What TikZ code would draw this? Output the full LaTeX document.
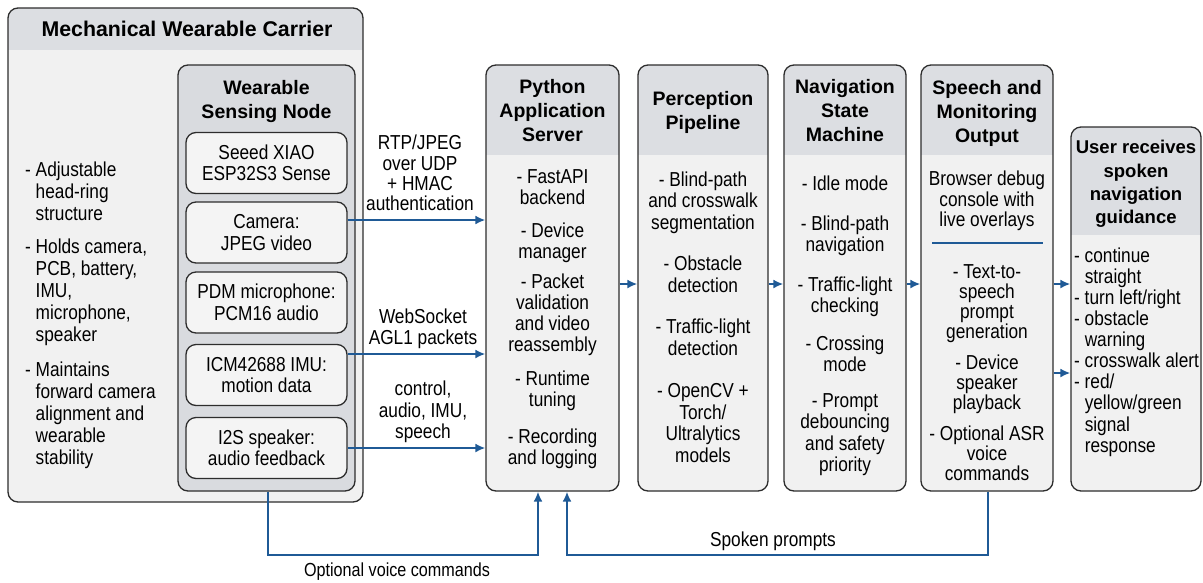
\documentclass[tikz,border=0pt]{standalone}
\usepackage{fontspec}
\setmainfont{Liberation Sans}
\newfontfamily\bodyf{Liberation Sans}[FakeStretch=0.855]
\usetikzlibrary{arrows.meta}
\definecolor{bord}{HTML}{2D2D2D}
\definecolor{boxfill}{HTML}{F1F1F1}
\definecolor{hdr}{HTML}{DCDEE2}
\definecolor{sncol}{HTML}{D9DBDF}
\definecolor{infill}{HTML}{F4F4F4}
\definecolor{lnblue}{HTML}{1F5A96}
\tikzset{
  base/.style={draw=bord, line width=1.3pt, rounded corners=10pt, inner sep=0pt},
  panel/.style={base, fill=boxfill, path picture={\fill[hdr, sharp corners] (path picture bounding box.north west) rectangle ([yshift=-#1]path picture bounding box.north east);}},
  snode/.style={base, fill=sncol},
  inbox/.style={base, fill=infill, minimum width=161pt, minimum height=61pt, align=center, font=\bodyf\fontsize{20.2}{21.5}\selectfont},
  ttl/.style={inner sep=0pt, align=center, font=\bfseries\fontsize{19.5}{24}\selectfont},
  body/.style={inner sep=0pt, align=center, font=\bodyf\fontsize{20.2}{21.5}\selectfont},
  arr/.style={draw=lnblue, line width=1.9pt, -{Latex[length=10pt,width=9pt]}},
}
\begin{document}
\begin{tikzpicture}[x=1pt,y=-1pt]
\useasboundingbox (0,0) rectangle (1203,582);
\fill[white] (0,0) rectangle (1203,582);

% Carrier
\node[panel=42pt, minimum width=355pt, minimum height=494pt] (mwc) at (185.5,255) {};
\node[ttl, font=\bfseries\fontsize{21.3}{24}\selectfont] (mwct) at (187,29) {Mechanical Wearable Carrier};
\node[body, align=left, anchor=west, font=\bodyf\fontsize{20.2}{22}\selectfont] (ltxt) at (25,315) {%
- Adjustable\\\phantom{- }head-ring\\\phantom{- }structure\\[11pt]
- Holds camera,\\\phantom{- }PCB, battery,\\\phantom{- }IMU,\\\phantom{- }microphone,\\\phantom{- }speaker\\[13pt]
- Maintains\\\phantom{- }forward camera\\\phantom{- }alignment and\\\phantom{- }wearable\\\phantom{- }stability};

% Sensing node
\node[snode, minimum width=177pt, minimum height=426pt] (sn) at (266.5,278) {};
\node[ttl] (snt) at (266.5,101) {Wearable\\Sensing Node};
\node[inbox] (xiao) at (266.5,163) {Seeed XIAO\\ESP32S3 Sense};
\node[inbox] (cam) at (266.5,232.5) {Camera:\\JPEG video};
\node[inbox] (pdm) at (266.5,302.5) {PDM microphone:\\PCM16 audio};
\node[inbox] (imu) at (266.5,375) {ICM42688 IMU:\\motion data};
\node[inbox] (spk) at (266.5,448) {I2S speaker:\\audio feedback};

% Python server
\node[panel=90pt, minimum width=133pt, minimum height=426pt] (py) at (552.5,278) {};
\node[ttl] (pyt) at (552.5,111) {Python\\Application\\Server};
\node[body, font=\bodyf\fontsize{20.2}{21}\selectfont] (pyb) at (552.5,319) {- FastAPI\\backend\\[12pt]- Device\\manager\\[9pt]- Packet\\validation\\and video\\reassembly\\[13pt]- Runtime\\tuning\\[16pt]- Recording\\and logging};

% Perception
\node[panel=90pt, minimum width=130pt, minimum height=426pt] (perc) at (703,278) {};
\node[ttl] (perct) at (703,112) {Perception\\Pipeline};
\node[body] (percb) at (703,317) {- Blind-path\\and crosswalk\\segmentation\\[20pt]- Obstacle\\detection\\[20pt]- Traffic-light\\detection\\[21pt]- OpenCV +\\Torch/\\Ultralytics\\models};

% Navigation
\node[panel=90pt, minimum width=122pt, minimum height=426pt] (nav) at (845,278) {};
\node[ttl] (navt) at (845,111) {Navigation\\State\\Machine};
\node[body] (navb) at (845,326) {- Idle mode\\[18pt]- Blind-path\\navigation\\[18pt]- Traffic-light\\checking\\[16pt]- Crossing\\mode\\[14pt]- Prompt\\debouncing\\and safety\\priority};

% Speech
\node[panel=90pt, minimum width=132pt, minimum height=426pt] (sp) at (987,278) {};
\node[ttl] (spt) at (987,113) {Speech and\\Monitoring\\Output};
\node[body, font=\bodyf\fontsize{20.2}{20.5}\selectfont] (spa) at (987,201) {Browser debug\\console with\\live overlays};
\draw[lnblue, line width=1.5pt] (932,243) -- (1043,243);
\node[body, font=\bodyf\fontsize{20.2}{20}\selectfont] (spb) at (987,373) {- Text-to-\\speech\\prompt\\generation\\[11pt]- Device\\speaker\\playback\\[11pt]- Optional ASR\\voice\\commands};

% User
\node[panel=108pt, minimum width=130pt, minimum height=364pt] (user) at (1136,309) {};
\node[ttl, font=\bfseries\fontsize{18.5}{23.3}\selectfont] (usert) at (1136,184) {User receives\\spoken\\navigation\\guidance};
\node[body, align=left, anchor=west, font=\bodyf\fontsize{20.2}{21.1}\selectfont] (userb) at (1074,352) {- continue\\\phantom{- }straight\\- turn left/right\\- obstacle\\\phantom{- }warning\\- crosswalk alert\\- red/\\\phantom{- }yellow/green\\\phantom{- }signal\\\phantom{- }response};

% Connector labels
\node[body, font=\bodyf\fontsize{20.2}{20.3}\selectfont] (lrtp) at (420,173) {RTP/JPEG\\over UDP\\+ HMAC\\authentication};
\node[body] (lws) at (423,329) {WebSocket\\AGL1 packets};
\node[body] (lctl) at (423,412) {control,\\audio, IMU,\\speech};
\node[body, font=\bodyf\fontsize{18.9}{20}\selectfont] (lvc) at (397,572) {Optional voice commands};
\node[body] (lsp) at (773,541) {Spoken prompts};

% Connectors
\draw[arr] ([yshift=12.5pt]cam.east) -- ([yshift=12.5pt]cam.east -| py.west);
\draw[arr] ([yshift=21pt]imu.east) -- ([yshift=21pt]imu.east -| py.west);
\draw[arr] (spk.east) -- (spk.east -| py.west);
\draw[arr] ([yshift=-6pt]py.east) -- ([yshift=-6pt]perc.west);
\draw[arr] ([yshift=-6pt]perc.east) -- ([yshift=-6pt]nav.west);
\draw[arr] ([yshift=-6pt]nav.east) -- ([yshift=-6pt]sp.west);
\draw[arr] ([yshift=-6pt]sp.east) -- ([yshift=-6pt]sp.east -| user.west);
\draw[arr] ([yshift=-95pt]sp.east) -- ([yshift=-95pt]sp.east -| user.west);
\draw[arr] ([xshift=1.5pt]sn.south) -- ([xshift=1.5pt]sn.south |- 0,555) -| ([xshift=-14.5pt]py.south);
\draw[arr] ([xshift=1pt]sp.south) -- ([xshift=1pt]sp.south |- 0,555) -| ([xshift=14.5pt]py.south);
\end{tikzpicture}
\end{document}
